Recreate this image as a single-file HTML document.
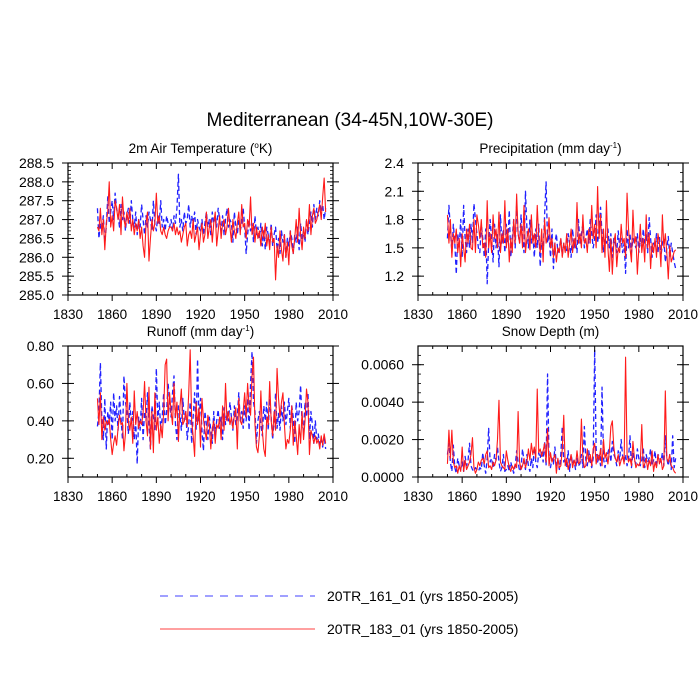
<!DOCTYPE html>
<html><head><meta charset="utf-8">
<style>
html,body{margin:0;padding:0;background:#fff;}
svg{display:block;font-family:"Liberation Sans",Arial,sans-serif;}
</style></head>
<body>
<svg id="chart" width="700" height="700" viewBox="0 0 700 700">
<text x="350" y="126" font-size="19" text-anchor="middle">Mediterranean (34-45N,10W-30E)</text>
<g>
<line x1="160" y1="596" x2="315" y2="596" stroke="#4040ff" stroke-width="1" stroke-dasharray="8,7"/>
<text x="327" y="601" font-size="14">20TR_161_01 (yrs 1850-2005)</text>
<line x1="160" y1="629" x2="315" y2="629" stroke="#ff4040" stroke-width="1"/>
<text x="327" y="634" font-size="14">20TR_183_01 (yrs 1850-2005)</text>
</g>
</svg>
<script>
const startYear = 1850;
const xTicks = [1830,1860,1890,1920,1950,1980,2010];
const xTickLabels = ["1830","1860","1890","1920","1950","1980","2010"];

const tempBlue = [287.3,286.5,286.9,286.7,287.1,286.4,286.8,287.6,286.9,287.2,
287.5,287.0,287.7,287.3,287.1,286.8,287.4,287.0,287.2,286.7,
287.1,287.3,286.9,287.5,287.0,286.8,287.2,286.6,287.0,286.8,
287.4,287.0,286.6,287.1,286.8,287.2,287.0,286.7,287.5,286.9,
286.7,287.1,286.9,287.5,286.8,287.0,286.7,287.1,286.9,286.8,
287.0,286.7,287.1,286.9,287.3,288.2,286.8,287.0,286.7,287.2,
286.9,287.0,287.4,286.8,287.1,286.9,287.2,286.6,287.0,286.8,
286.7,287.0,286.6,286.9,287.2,286.8,287.0,286.6,287.2,286.9,
287.1,286.8,287.3,287.0,286.7,287.1,286.6,287.0,287.3,286.8,
287.0,286.9,286.4,287.2,286.8,286.6,287.0,286.7,286.9,287.3,
286.8,286.1,286.6,287.0,286.7,286.9,286.4,287.1,286.6,286.8,
286.5,286.9,286.3,286.7,286.2,286.8,286.6,286.4,286.9,286.3,
286.6,286.8,286.2,286.5,286.1,286.7,286.4,286.6,286.0,286.5,
286.3,286.7,286.5,286.1,286.6,286.4,286.8,286.2,286.9,286.5,
286.7,286.4,287.0,286.6,286.9,287.2,286.8,287.4,287.0,287.3,
287.1,287.5,287.2,287.4,287.0,287.3];
const tempRed = [286.8,286.7,287.3,286.6,287.0,286.2,286.9,287.2,288.0,286.8,
287.1,286.7,287.5,287.3,287.0,287.4,286.6,287.6,287.0,286.8,
287.2,286.9,287.3,286.7,287.0,286.6,286.9,286.7,287.0,286.5,
286.8,286.3,286.0,286.9,287.2,285.9,286.5,287.0,286.7,286.9,
287.7,286.9,287.1,286.7,286.6,286.8,286.6,286.5,286.7,286.8,
286.8,286.7,286.9,286.6,286.8,286.6,286.7,286.4,286.6,286.8,
286.9,286.3,286.6,286.7,286.5,287.0,286.4,286.6,286.8,286.2,
286.6,286.9,286.4,286.6,287.2,286.5,286.8,287.0,286.4,286.9,
287.2,286.3,286.7,287.1,286.5,286.9,287.0,286.6,286.8,287.3,
286.8,286.4,287.0,286.7,286.5,286.9,287.2,286.6,287.4,286.8,
286.9,286.5,287.0,286.8,287.6,286.6,286.9,286.4,286.8,286.5,
286.7,286.3,286.8,286.5,286.9,286.3,286.6,286.2,286.8,286.4,
286.5,285.4,286.3,286.0,286.7,286.2,285.9,286.6,286.0,286.4,
285.8,286.7,286.3,286.1,286.5,287.0,286.4,287.3,286.6,286.2,
286.8,286.5,287.0,286.7,287.4,286.6,287.1,287.3,286.9,287.0,
287.2,287.4,287.0,287.6,288.1,287.2];

const precBlue = [1.60,1.95,1.70,1.45,1.75,1.55,1.22,1.65,1.50,1.80,
1.40,1.95,1.60,1.45,1.70,1.50,1.75,1.55,1.97,1.80,
1.65,1.50,1.45,1.75,1.60,1.40,1.70,1.12,1.55,1.80,
1.60,1.35,1.75,1.50,1.65,1.30,1.85,1.55,1.70,1.45,
1.75,1.55,1.90,1.40,1.60,1.80,1.50,1.95,1.65,1.55,
1.85,1.60,1.45,2.10,1.70,1.50,1.80,1.55,1.65,1.40,
1.70,1.50,1.75,1.30,1.60,1.45,1.85,2.20,1.55,1.65,
1.40,1.70,1.28,1.55,1.65,1.45,1.50,1.60,1.42,1.55,
1.50,1.45,1.65,1.55,1.40,1.70,1.50,1.60,1.45,1.80,
1.55,1.65,1.75,1.50,1.60,1.70,1.55,1.80,1.65,1.50,
1.60,1.85,1.55,1.70,1.93,1.65,1.45,1.60,1.55,1.70,
1.50,1.65,1.40,1.60,1.55,1.45,1.68,1.50,1.60,1.45,
1.55,1.23,1.70,1.50,1.65,1.45,1.60,1.55,1.50,1.65,
1.45,1.60,1.50,1.70,1.55,1.65,1.45,1.82,1.60,1.40,
1.55,1.50,1.65,1.45,1.62,1.40,1.55,1.60,1.35,1.50,
1.62,1.40,1.55,1.45,1.35,1.28];
const precRed = [1.85,1.55,1.80,1.40,1.65,1.55,1.70,1.45,1.60,1.30,
1.65,1.50,1.35,1.70,1.55,1.75,1.50,1.48,1.80,1.45,
1.85,1.75,1.60,1.80,1.50,1.55,1.40,2.00,1.50,1.65,
1.45,1.85,1.60,1.70,1.50,1.88,1.45,1.65,1.55,2.00,
1.50,1.70,1.35,1.60,1.45,1.80,1.55,2.07,1.65,1.55,
1.75,1.50,1.95,1.45,1.60,1.70,1.48,1.85,1.55,1.65,
1.50,1.95,1.60,1.45,1.70,1.35,1.80,1.55,1.62,1.82,
1.50,1.60,1.40,1.55,1.35,1.50,1.45,1.60,1.40,1.55,
1.45,1.65,1.40,1.55,1.70,1.45,1.60,1.50,1.98,1.55,
1.65,1.50,1.85,1.55,1.60,1.45,1.70,1.55,1.95,1.60,
1.75,1.50,2.15,1.60,1.85,1.45,1.70,1.40,2.00,1.50,
1.25,1.60,1.22,1.55,1.65,1.30,1.50,1.45,1.75,1.55,
1.60,1.40,2.08,1.70,1.50,1.35,1.90,1.55,1.62,1.22,
1.50,1.75,1.45,1.60,1.35,1.85,1.50,1.65,1.28,1.55,
1.45,1.60,1.40,1.65,1.55,1.30,1.85,1.50,1.65,1.45,
1.17,1.52,1.35,1.40,1.46,1.48];

const runBlue = [0.37,0.45,0.71,0.40,0.30,0.52,0.25,0.45,0.38,0.50,
0.30,0.55,0.40,0.48,0.35,0.53,0.42,0.30,0.64,0.50,
0.45,0.33,0.50,0.38,0.45,0.30,0.40,0.17,0.42,0.35,
0.52,0.30,0.45,0.40,0.55,0.38,0.25,0.48,0.42,0.35,
0.68,0.40,0.50,0.35,0.42,0.55,0.38,0.45,0.60,0.50,
0.42,0.55,0.64,0.38,0.30,0.48,0.44,0.35,0.52,0.40,
0.45,0.30,0.38,0.50,0.28,0.42,0.55,0.35,0.73,0.40,
0.52,0.35,0.24,0.45,0.38,0.30,0.42,0.35,0.28,0.45,
0.32,0.40,0.46,0.36,0.42,0.30,0.47,0.38,0.45,0.40,
0.50,0.42,0.35,0.48,0.38,0.42,0.55,0.40,0.45,0.36,
0.48,0.40,0.52,0.35,0.60,0.77,0.50,0.45,0.28,0.40,
0.45,0.38,0.32,0.48,0.40,0.50,0.35,0.52,0.42,0.30,
0.40,0.55,0.36,0.44,0.35,0.48,0.40,0.50,0.38,0.45,
0.52,0.36,0.48,0.42,0.28,0.50,0.40,0.45,0.59,0.38,
0.35,0.50,0.42,0.55,0.30,0.45,0.38,0.28,0.40,0.30,
0.33,0.27,0.30,0.26,0.32,0.25];
const runRed = [0.52,0.38,0.55,0.30,0.42,0.35,0.40,0.38,0.41,0.30,
0.22,0.28,0.32,0.27,0.36,0.43,0.38,0.39,0.24,0.33,
0.60,0.40,0.35,0.42,0.28,0.56,0.38,0.45,0.36,0.40,
0.38,0.44,0.61,0.40,0.32,0.58,0.25,0.45,0.23,0.55,
0.35,0.42,0.28,0.38,0.31,0.45,0.70,0.73,0.40,0.55,
0.45,0.38,0.60,0.42,0.50,0.29,0.47,0.57,0.38,0.40,
0.45,0.37,0.55,0.78,0.40,0.32,0.21,0.50,0.38,0.47,
0.26,0.52,0.41,0.35,0.30,0.43,0.38,0.25,0.36,0.40,
0.28,0.38,0.36,0.42,0.30,0.48,0.35,0.60,0.40,0.45,
0.38,0.42,0.36,0.43,0.47,0.25,0.52,0.40,0.38,0.45,
0.55,0.42,0.60,0.48,0.43,0.64,0.74,0.38,0.26,0.23,
0.32,0.56,0.35,0.25,0.21,0.42,0.38,0.61,0.40,0.32,
0.45,0.35,0.68,0.52,0.42,0.50,0.55,0.38,0.25,0.30,
0.28,0.35,0.48,0.27,0.40,0.32,0.22,0.38,0.28,0.45,
0.30,0.40,0.57,0.50,0.22,0.35,0.32,0.28,0.32,0.28,
0.30,0.25,0.32,0.27,0.33,0.28];

const snowBlue = [1.2,1.8,0.8,0.3,1.7,0.5,0.2,1.0,0.6,0.4,
0.8,0.3,1.1,0.6,0.9,1.8,0.6,0.4,0.3,0.5,
0.4,0.3,0.5,0.4,1.3,0.6,0.2,1.0,2.6,0.8,
1.0,0.5,1.2,0.9,1.6,0.8,0.3,0.5,1.2,0.3,
0.4,0.6,0.3,0.8,0.5,0.2,0.6,1.4,0.8,0.3,
0.5,1.5,0.8,0.4,1.2,0.6,0.3,1.0,0.5,1.6,
0.8,0.5,1.3,1.0,1.4,0.8,1.9,0.6,5.5,0.9,
0.5,1.0,0.7,1.6,0.6,0.9,0.4,1.2,2.7,0.8,
1.0,0.5,1.4,0.3,1.2,0.7,0.9,0.4,1.0,0.6,
0.7,1.2,0.5,2.7,0.9,0.6,1.4,0.8,0.5,1.0,
6.8,1.5,0.8,1.2,0.6,4.8,1.0,0.5,0.9,1.3,
1.6,0.8,1.9,1.2,1.0,0.6,1.4,0.9,2.0,1.1,
0.8,1.2,0.6,1.0,2.2,0.5,1.3,0.9,0.7,1.5,
1.0,0.6,0.9,1.6,0.5,1.2,0.8,1.0,1.5,0.6,
0.9,1.4,0.5,1.2,1.1,0.8,1.3,0.6,2.2,1.0,
0.6,1.2,0.4,2.2,0.5,1.0];
const snowRed = [0.7,2.5,1.0,2.5,0.8,0.5,0.6,0.2,0.6,0.3,
1.6,0.3,0.9,0.4,0.6,0.8,1.2,2.1,0.5,0.2,
0.4,0.8,0.6,0.9,1.0,0.7,1.2,1.4,0.5,0.6,
0.4,0.8,0.6,0.9,2.0,4.1,0.8,0.6,0.5,0.4,
1.4,0.9,0.5,0.3,0.6,0.4,0.7,0.5,3.5,0.8,
0.4,0.6,1.0,0.5,0.8,1.5,0.9,1.8,1.2,1.6,
1.0,4.7,1.3,1.5,1.1,1.4,1.8,0.8,2.6,0.6,
1.3,0.8,1.0,1.2,0.2,1.0,0.5,0.6,1.5,3.3,
0.6,1.0,0.4,0.8,1.2,0.5,0.9,0.6,1.4,0.7,
0.8,3.1,1.0,0.5,0.6,1.5,0.8,1.2,0.6,1.5,
1.8,0.7,1.2,0.9,1.5,0.6,2.0,1.0,1.3,0.7,
1.4,2.7,3.0,1.6,1.0,0.8,1.2,0.6,0.9,1.1,
0.7,6.4,1.2,0.8,1.0,0.6,1.9,1.0,0.5,0.7,
0.6,0.8,2.8,0.5,0.7,1.0,0.4,0.9,0.6,1.4,
0.3,0.8,0.5,1.2,0.7,1.0,0.4,0.6,4.6,1.0,
0.8,1.2,0.6,0.5,0.3,0.2];

const tempTicks = ["285.0","285.5","286.0","286.5","287.0","287.5","288.0","288.5"];
const precTicks = ["1.2","1.5","1.8","2.1","2.4"];
const runTicks = ["0.20","0.40","0.60","0.80"];
const snowTicks = ["0.0000","0.0020","0.0040","0.0060"];

const NS = "http://www.w3.org/2000/svg";
const svg = document.getElementById('chart');
function mk(tag, attrs, parent){ const e=document.createElementNS(NS,tag); for(const k in attrs) e.setAttribute(k,attrs[k]); (parent||svg).appendChild(e); return e; }

const panels = [
 {key:'temp', title:'2m Air Temperature (', sup:'o', tail:'K)', x0:68,x1:333,y0:163,y1:295, ymin:285.0,ymax:288.5, ticks:tempTicks, minor:0.1, scale:1, blue:tempBlue, red:tempRed},
 {key:'precip', title:'Precipitation (mm day', sup:'-1', tail:')', x0:418,x1:683,y0:163,y1:295, ymin:1.0,ymax:2.4, ticks:precTicks, minor:0.1, scale:1, blue:precBlue, red:precRed},
 {key:'runoff', title:'Runoff (mm day', sup:'-1', tail:')', x0:68,x1:333,y0:346,y1:477, ymin:0.1,ymax:0.8, ticks:runTicks, minor:0.05, scale:1, blue:runBlue, red:runRed},
 {key:'snow', title:'Snow Depth (m)', sup:'', tail:'', x0:418,x1:683,y0:346,y1:477, ymin:0,ymax:0.007, ticks:snowTicks, minor:0.0005, scale:0.001, blue:snowBlue, red:snowRed}
];

panels.forEach(p=>{
  const g = mk('g',{});
  
  
  const xs = v => p.x0 + (v-1830)/(2010-1830)*(p.x1-p.x0);
  const ys = v => p.y1 - (v-p.ymin)/(p.ymax-p.ymin)*(p.y1-p.y0);
  const t = mk('text',{x:(p.x0+p.x1)/2, y:p.y0-10, 'font-size':13.5, 'text-anchor':'middle'}, g);
  
  
  t.appendChild(document.createTextNode(p.title));
  if(p.sup){ const s=mk('tspan',{'font-size':8, dy:-5},t); s.textContent=p.sup; const r=mk('tspan',{'font-size':13.5, dy:5},t); r.textContent=p.tail; }
  const clip = mk('clipPath',{id:'clip-'+p.key}, g);
  mk('rect',{x:p.x0,y:p.y0,width:p.x1-p.x0,height:p.y1-p.y0},clip);
  [['blue',p.blue,'#2020ff','5,3',1.3],['red',p.red,'#ff1a1a','',1.1]].forEach(([nm,arr,col,dash,w])=>{
    const pts = arr.map((v,i)=>xs(startYear+i).toFixed(2)+','+ys(v*p.scale).toFixed(2)).join(' ');
    const pl = mk('polyline',{points:pts, fill:'none', stroke:col, 'stroke-width':w, 'stroke-linejoin':'round','clip-path':'url(#clip-'+p.key+')'}, g);
    if(dash) pl.setAttribute('stroke-dasharray',dash);
    
    
  });
  const fr = mk('rect',{x:p.x0,y:p.y0,width:p.x1-p.x0,height:p.y1-p.y0,fill:'none',stroke:'#000','stroke-width':1.2}, g);
  
  
  for(let yr=1830; yr<=2010; yr+=10){
    const x=xs(yr), major=(yr-1830)%30===0, L=major?6:3;
    mk('line',{x1:x,y1:p.y1,x2:x,y2:major?p.y1+6:p.y1-3,stroke:'#000','stroke-width':1}, g);
    mk('line',{x1:x,y1:p.y0,x2:x,y2:p.y0+L,stroke:'#000','stroke-width':1}, g);
  }
  xTicks.forEach((yr,i)=>{
    const tl = mk('text',{x:xs(yr), y:p.y1+24, 'font-size':13.5, 'text-anchor':'middle'}, g);
    
    
    tl.textContent = xTickLabels[i];
  });
  for(let k=0;k<=Math.round((p.ymax-p.ymin)/p.minor);k++){
    const y=ys(p.ymin+k*p.minor);
    mk('line',{x1:p.x0,y1:y,x2:p.x0+3,y2:y,stroke:'#000','stroke-width':0.8}, g);
    mk('line',{x1:p.x1,y1:y,x2:p.x1-3,y2:y,stroke:'#000','stroke-width':0.8}, g);
  }
  p.ticks.forEach(lbl=>{
    const v=parseFloat(lbl), y=ys(v);
    mk('line',{x1:p.x0-6,y1:y,x2:p.x0+6,y2:y,stroke:'#000','stroke-width':1}, g);
    mk('line',{x1:p.x1-6,y1:y,x2:p.x1+6,y2:y,stroke:'#000','stroke-width':1}, g);
    const tl = mk('text',{x:p.x0-14, y:y+5, 'font-size':14, 'text-anchor':'end'}, g);
    
    
    tl.textContent = lbl;
  });
});
</script>
</body></html>
